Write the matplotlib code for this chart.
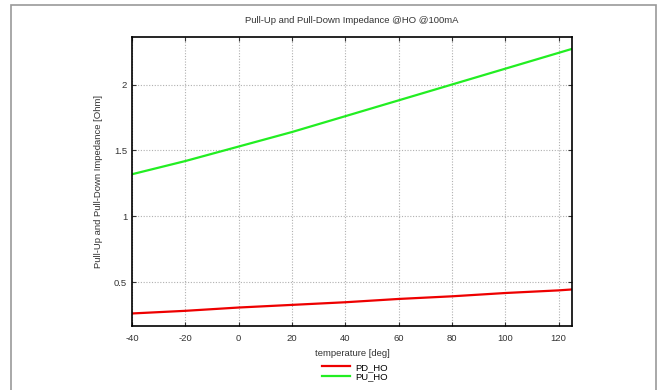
import matplotlib
matplotlib.use("Agg")
import matplotlib.pyplot as plt
from matplotlib.patches import Rectangle

plt.rcParams['font.family'] = ['Liberation Sans', 'DejaVu Sans']
plt.rcParams['axes.unicode_minus'] = False

# temperature points and impedance readings
temp = [-40, -20, 0, 20, 40, 60, 80, 100, 120, 125]
pd_ho = [0.265, 0.285, 0.31, 0.33, 0.35, 0.375, 0.395, 0.42, 0.44, 0.447]
pu_ho = [1.32, 1.42, 1.53, 1.64, 1.76, 1.88, 2.00, 2.12, 2.24, 2.27]

xticks = [-40, -20, 0, 20, 40, 60, 80, 100, 120]
yticks = [0.5, 1, 1.5, 2]

fig = plt.figure(figsize=(6.6, 3.9), dpi=100)
# outer gray frame of the page
fig.patches.append(Rectangle((11/660, -0.05), 645/660, 1.05 - 5/390, transform=fig.transFigure,
                             fill=False, edgecolor='#999999', linewidth=1.2))

ax = fig.add_axes([132/660, 1 - 326/390, 440/660, 289/390])
ax.plot(temp, pd_ho, color='#ee0000', linewidth=1.6, label='PD_HO')
ax.plot(temp, pu_ho, color='#22ee22', linewidth=1.6, label='PU_HO')

ax.set_xlim(-40, 125)
ax.set_ylim(0.17, 2.36)
ax.set_xticks(xticks)
ax.set_yticks(yticks)
ax.set_yticklabels(['0.5', '1', '1.5', '2'])
ax.grid(True, color='#b0b0b0', linestyle=(0, (1, 1.5)), linewidth=0.8)
ax.tick_params(direction='in', labelsize=6.8, colors='#333333', length=3, top=True, right=True)
ax.tick_params(axis='x', pad=6)
for s in ax.spines.values():
    s.set_linewidth(1.2)

ax.set_title('Pull-Up and Pull-Down Impedance @HO @100mA', fontsize=6.8, color='#333333', pad=10)
ax.set_xlabel('temperature [deg]', fontsize=6.8, color='#333333', labelpad=4)
ax.set_ylabel('Pull-Up and Pull-Down Impedance [Ohm]', fontsize=6.8, color='#333333', labelpad=8)

fig.legend(loc='center', bbox_to_anchor=(355/660, 1 - 372/390), frameon=False, fontsize=6.8,
           handlelength=3, labelspacing=0.05, handletextpad=0.6, borderpad=0)

fig.savefig('out.png', dpi=100)
